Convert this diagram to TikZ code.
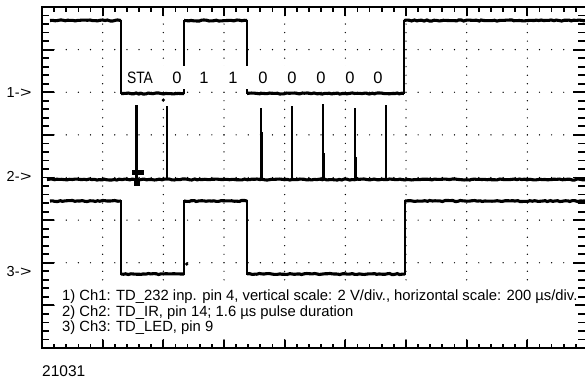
\documentclass[tikz,border=0pt]{standalone}
\usepackage{fontspec}
\setmainfont{Liberation Sans}
\usetikzlibrary{decorations.pathmorphing}
\begin{document}
\begin{tikzpicture}[x=1pt,y=-1pt,
  frame/.style={line width=2pt},
  tick/.style={line width=1.8pt},
  dot/.style={fill=black},
  trace/.style={line width=1.9pt,line join=miter},
  level/.style={line width=3.1pt,decorate,decoration={random steps,segment length=2.5pt,amplitude=0.55pt}},
  pulse/.style={line width=2.2pt},
  lbl/.style={inner sep=0pt,font=\fontsize{16.5}{18}\selectfont},
  chl/.style={inner sep=0pt,anchor=west,font=\fontsize{14.5}{16}\selectfont},
  note/.style={inner sep=0pt,anchor=base west,font=\fontsize{14.8}{16}\selectfont}]
\pgfmathsetseed{7}
\useasboundingbox (0,0) rectangle (585,381);
\fill[white] (0,0) rectangle (585,381);
% grid dots
\foreach \i in {1,...,8}{
  \foreach \k in {1,...,39}{
    \fill[dot] (42+\i*60.67, 7+\k*8.525) circle (0.7pt);
  }
}
\foreach \j in {1,...,7}{
  \foreach \k in {1,...,44}{
    \fill[dot] (42+\k*12.133, 7+\j*42.625) circle (0.7pt);
  }
}
% frame
\draw[frame] (588,7) -- (42,7) -- (42,348) -- (588,348);
\draw[frame] (588,7) -- (588,348);
% ticks on left and right
\foreach \k in {1,...,39}{
  \pgfmathsetmacro\len{mod(\k,5)==0 ? 12 : 6.5}
  \pgfmathsetmacro\lenr{mod(\k,5)==0 ? 15 : 10}
  \draw[tick] (42,7+\k*8.525) -- ++(\len,0);
  \draw[tick] (588,7+\k*8.525) -- ++(-\lenr,0);
}
% ticks on top and bottom
\foreach \k in {1,...,44}{
  \pgfmathsetmacro\lent{mod(\k,5)==0 ? 8.5 : 5}
  \pgfmathsetmacro\lenb{mod(\k,5)==0 ? 8 : 4}
  \draw[tick] (42+\k*12.133,7) -- ++(0,\lent);
  \draw[tick] (42+\k*12.133,348) -- ++(0,-\lenb);
}
% trace 1
\draw[trace] (50,20.5) -- (121,20.5) -- (121,93.5) -- (184,93.5) -- (184,20.5) -- (247,20.5) -- (247,93.5) -- (404,93.5) -- (404,20.5) -- (590,20.5);
\draw[level] (50,20.5) -- (121,20.5);
\draw[level] (121,93.5) -- (184,93.5);
\draw[level] (184,20.5) -- (247,20.5);
\draw[level] (247,93.5) -- (404,93.5);
\draw[level] (404,20.5) -- (590,20.5);
% trace 3
\draw[trace] (50,201) -- (121,201) -- (121,274) -- (184,274) -- (184,201) -- (247,201) -- (247,274) -- (405,274) -- (405,201) -- (590,201);
\draw[level] (50,201) -- (121,201);
\draw[level] (121,274) -- (184,274);
\draw[level] (184,201) -- (247,201);
\draw[level] (247,274) -- (405,274);
\draw[level] (405,201) -- (590,201);
% trace 2
\draw[level] (47,179.5) -- (590,179.5);
\draw[pulse] (136.5,105) -- (136.5,185);
\fill (134,179) rectangle (139.5,185.5);
\fill (131.7,170) rectangle (144.3,174.5);
\draw[pulse] (167,106) -- (167,179.5);
\draw[pulse] (261,108) -- (261,179.5);
\draw[pulse] (292,106) -- (292,179.5);
\draw[pulse] (323,104) -- (323,179.5);
\draw[pulse] (355,108) -- (355,179.5);
\draw[pulse] (386,105) -- (386,179.5);
\draw[line width=3pt] (261,132) -- (261,179.5) (323,153) -- (323,179.5) (355,157) -- (355,179.5);
% markers
\fill (163.3,100) circle (1.8pt);
\fill (186.7,264) circle (1.8pt);
% label row
\fill[white] (124,66) rectangle (386,89);
\node[lbl] (sta) at (140,77.5) {\scalebox{0.84}[1]{STA}};
\node[lbl] (b0) at (177,77.5) {0};
\node[lbl] (b1) at (204,77.5) {1};
\node[lbl] (b2) at (233,77.5) {1};
\node[lbl] (b3) at (263,77.5) {0};
\node[lbl] (b4) at (292,77.5) {0};
\node[lbl] (b5) at (321,77.5) {0};
\node[lbl] (b6) at (350,77.5) {0};
\node[lbl] (b7) at (378,77.5) {0};
% channel labels
\node[chl] (c1) at (6.5,92.7) {1-\kern0.5pt\scalebox{1.35}[1]{>}};
\node[chl] (c2) at (6.5,176.7) {2-\kern0.5pt\scalebox{1.35}[1]{>}};
\node[chl] (c3) at (6.5,271.7) {3-\kern0.5pt\scalebox{1.35}[1]{>}};
% notes
\fill[white] (58,284) rectangle (575,339);
\node[note] (n1) at (62,300.5) {1) Ch1: TD\_232 inp. pin 4, vertical scale: 2 V/div., horizontal scale: 200 µs/div.};
\node[note] (n2) at (62,316) {2) Ch2: TD\_IR, pin 14; 1.6 µs pulse duration};
\node[note] (n3) at (62,331.5) {3) Ch3: TD\_LED, pin 9};
\node[inner sep=0pt,anchor=base west,font=\fontsize{15.5}{17}\selectfont] (fig) at (42,376) {21031};
\end{tikzpicture}
\end{document}
